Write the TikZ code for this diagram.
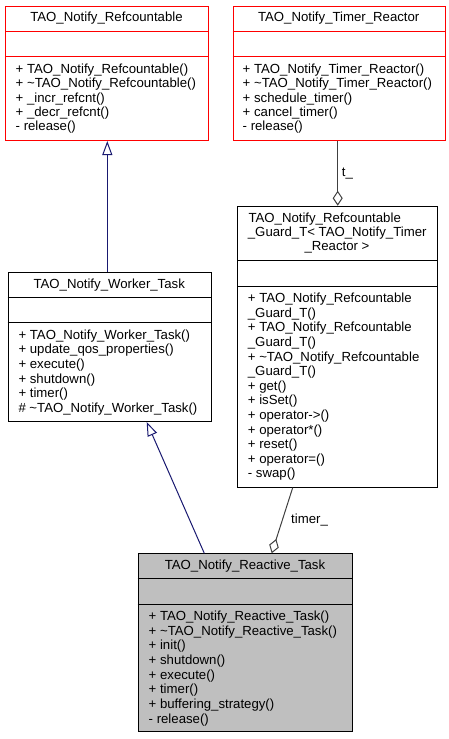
\documentclass[tikz,border=0pt]{standalone}
\usepackage{fontspec}
\setmainfont{Liberation Sans}
\usetikzlibrary{arrows.meta}
\definecolor{edgeblue}{HTML}{191970}
\definecolor{edgegrey}{HTML}{404040}
\definecolor{boxred}{HTML}{FF0000}
\definecolor{fillgrey}{HTML}{BFBFBF}
\begin{document}
\begin{tikzpicture}[x=1pt,y=-1pt,
  umlbox/.style={draw, line width=1pt, anchor=north west, inner sep=0pt},
  sepline/.style={line width=1pt},
  ttl/.style={anchor=base, inner sep=0pt, font=\fontsize{13.2}{14.5}\selectfont},
  mtxt/.style={anchor=base west, inner sep=0pt, font=\fontsize{13.2}{14.5}\selectfont},
  inh/.style={draw=edgeblue, line width=1pt, {Triangle[open, length=14pt, width=10pt, line width=1pt]}-},
  aggr/.style={draw=edgegrey, line width=1pt, {Diamond[open, length=15pt, width=10pt, line width=1pt]}-},
  elabel/.style={anchor=base west, inner sep=0pt, font=\fontsize{13.2}{14.5}\selectfont}]
\useasboundingbox (0,0) rectangle (449,739);

% ---------- TAO_Notify_Refcountable ----------
\node[umlbox, draw=boxred, minimum width=203pt, minimum height=134.5pt] (ref) at (5,5.5) {};
\draw[sepline, boxred] (5,31.7) -- (208,31.7);
\draw[sepline, boxred] (5,56.7) -- (208,56.7);
\node[ttl] (reft) at (106.5,21.7) {TAO\_Notify\_Refcountable};
\foreach \s [count=\i from 0] in {+ TAO\_Notify\_Refcountable(),
  + \textasciitilde TAO\_Notify\_Refcountable(),
  + \_incr\_refcnt(),
  + \_decr\_refcnt(),
  - release()}
  \node[mtxt] (refm\i) at (15.5,73.3+14.4*\i) {\s};

% ---------- TAO_Notify_Timer_Reactor ----------
\node[umlbox, draw=boxred, minimum width=212pt, minimum height=134.5pt] (timer) at (232.7,5.5) {};
\draw[sepline, boxred] (232.7,31.7) -- (444.7,31.7);
\draw[sepline, boxred] (232.7,56.7) -- (444.7,56.7);
\node[ttl] (timert) at (338.7,21.7) {TAO\_Notify\_Timer\_Reactor};
\foreach \s [count=\i from 0] in {+ TAO\_Notify\_Timer\_Reactor(),
  + \textasciitilde TAO\_Notify\_Timer\_Reactor(),
  + schedule\_timer(),
  + cancel\_timer(),
  - release()}
  \node[mtxt] (timerm\i) at (242.5,73.3+14.4*\i) {\s};

% ---------- TAO_Notify_Worker_Task ----------
\node[umlbox, minimum width=203pt, minimum height=149.3pt] (worker) at (7.7,271.7) {};
\draw[sepline] (7.7,297.3) -- (210.7,297.3);
\draw[sepline] (7.7,322.7) -- (210.7,322.7);
\node[ttl] (workert) at (109.2,288.3) {TAO\_Notify\_Worker\_Task};
\foreach \s [count=\i from 0] in {+ TAO\_Notify\_Worker\_Task(),
  + update\_qos\_properties(),
  + execute(),
  + shutdown(),
  + timer(),
  \# \textasciitilde TAO\_Notify\_Worker\_Task()}
  \node[mtxt] (workerm\i) at (18.3,339.3+14.6*\i) {\s};

% ---------- Guard ----------
\node[umlbox, minimum width=200.3pt, minimum height=281pt] (guard) at (237,205.7) {};
\draw[sepline] (237,260.7) -- (437.3,260.7);
\draw[sepline] (237,286) -- (437.3,286);
\node[mtxt] (guardt1) at (248.3,222.3) {TAO\_Notify\_Refcountable};
\node[mtxt] (guardt2) at (247.7,236.7) {\_Guard\_T< TAO\_Notify\_Timer};
\node[ttl] (guardt3) at (337,250.9) {\_Reactor >};
\foreach \s [count=\i from 0] in {+ TAO\_Notify\_Refcountable,
  \_Guard\_T(),
  + TAO\_Notify\_Refcountable,
  \_Guard\_T(),
  + \textasciitilde TAO\_Notify\_Refcountable,
  \_Guard\_T(),
  + get(),
  + isSet(),
  + operator->(),
  + operator*(),
  + reset(),
  + operator=(),
  - swap()}
  \node[mtxt] (guardm\i) at (247.7,302.6+14.6*\i) {\s};

% ---------- TAO_Notify_Reactive_Task ----------
\node[umlbox, fill=fillgrey, minimum width=214.6pt, minimum height=177.4pt] (react) at (137.7,553.3) {};
\draw[sepline] (137.7,578.7) -- (352.3,578.7);
\draw[sepline] (137.7,604) -- (352.3,604);
\node[ttl] (reactt) at (245,569.5) {TAO\_Notify\_Reactive\_Task};
\foreach \s [count=\i from 0] in {+ TAO\_Notify\_Reactive\_Task(),
  + \textasciitilde TAO\_Notify\_Reactive\_Task(),
  + init(),
  + shutdown(),
  + execute(),
  + timer(),
  + buffering\_strategy(),
  - release()}
  \node[mtxt] (reactm\i) at (148.5,620.3+14.7*\i) {\s};

% ---------- connectors ----------
\draw[inh] ([xshift=102.3pt]ref.south west) -- ([xshift=99.6pt]worker.north west);
\draw[inh] ([xshift=139pt]worker.south west) -- ([xshift=66.6pt]react.north west);
\draw[aggr] ([xshift=100.7pt]guard.north west) -- ([xshift=105pt]timer.south west);
\node[elabel] (tlabel) at (341.7,176.7) {t\_};
\draw[aggr] ([xshift=134pt]react.north west) -- ([xshift=55.7pt]guard.south west);
\node[elabel] (timerlabel) at (291,523.3) {timer\_};
\end{tikzpicture}
\end{document}
